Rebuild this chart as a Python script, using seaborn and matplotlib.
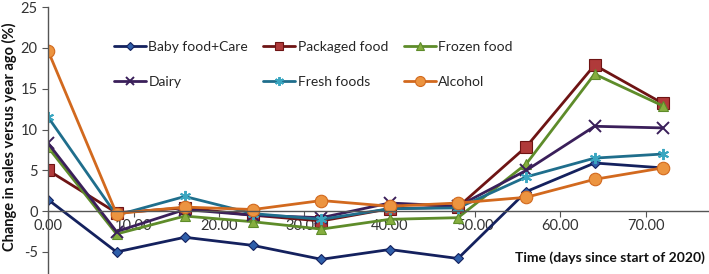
import numpy as np
import pandas as pd
import matplotlib
matplotlib.use("Agg")
import matplotlib.pyplot as plt
import seaborn as sns
from matplotlib.ticker import FormatStrFormatter

sns.set_style("white")
plt.rcParams['font.family'] = ['Lato', 'DejaVu Sans']

days = [0, 8, 16, 24, 32, 40, 48, 56, 64, 72]
baby = [1.4, -5.0, -3.2, -4.2, -5.9, -4.7, -5.8, 2.4, 5.9, 5.3]
packaged = [5.0, -0.2, 0.4, -0.5, -1.2, 0.3, 0.5, 7.9, 17.9, 13.2]
frozen = [7.8, -2.8, -0.6, -1.3, -2.2, -1.0, -0.8, 5.8, 16.8, 12.9]
dairy = [8.3, -2.5, 0.2, -0.5, -0.8, 1.0, 0.6, 5.0, 10.4, 10.2]
fresh = [11.5, -0.5, 1.8, -0.3, -1.0, 0.3, 0.4, 4.2, 6.5, 7.0]
alcohol = [19.6, -0.3, 0.5, 0.2, 1.3, 0.6, 1.0, 1.7, 3.9, 5.3]

names = ["Baby food+Care", "Packaged food", "Frozen food", "Dairy", "Fresh foods", "Alcohol"]
values = [baby, packaged, frozen, dairy, fresh, alcohol]
line_colors = ["#14215E", "#6E1414", "#5E8C2A", "#3A1F5A", "#1F6E8C", "#D2691E"]
face_colors = ["#2F5FAA", "#B03A3A", "#86AE3F", "#3A1F5A", "#3AA6C0", "#EC9440"]
markers = ["D", "s", "^", "x", (6, 2, 0), "o"]
msizes = [5, 8, 7, 8, 8, 9]

fig = plt.figure(figsize=(7.09, 2.74), dpi=100)
ax = fig.add_axes([0.068, 0.0, 0.932, 0.974])

for n, v, lc, fc, m, ms in zip(names, values, line_colors, face_colors, markers, msizes):
    df = pd.DataFrame({"day": days, "val": v})
    stroke = m in ("x",) or isinstance(m, tuple)
    sns.lineplot(data=df, x="day", y="val", ax=ax, color=lc, marker=m, markersize=ms,
                 linewidth=2, label=n, markerfacecolor=fc,
                 markeredgecolor=(fc if isinstance(m, tuple) else lc),
                 markeredgewidth=1.4 if stroke else 0.8)

ax.set_xlim(0, 77.4)
ax.set_ylim(-7.7, 25)
ax.set_yticks([-5, 0, 5, 10, 15, 20, 25])
ax.set_xticks([0, 10, 20, 30, 40, 50, 60, 70])
ax.xaxis.set_major_formatter(FormatStrFormatter("%.2f"))
ax.yaxis.set_major_formatter(FormatStrFormatter("%d"))
ax.spines['bottom'].set_position(('data', 0))
ax.spines['top'].set_visible(False)
ax.spines['right'].set_visible(False)
for s in ("left", "bottom"):
    ax.spines[s].set_color("#555555")
    ax.spines[s].set_linewidth(1.0)
ax.tick_params(axis="both", which="both", direction="out", length=4, color="#555555",
               labelsize=10.5, labelcolor="#333333", left=True, bottom=True)
ax.tick_params(axis="x", pad=2)
ax.set_xlabel("")
ax.set_ylabel("")

fig.text(0.994, 0.06, "Time (days since start of 2020)", ha="right", va="center",
         fontsize=10, fontweight="bold", color="#111111")
fig.text(0.014, 0.5, "Change in sales versus year ago (%)", ha="center", va="center",
         rotation=90, fontsize=10.5, fontweight="bold", color="#111111")

handles, labels = ax.get_legend_handles_labels()
order = [0, 3, 1, 4, 2, 5]
leg = ax.legend([handles[i] for i in order], [labels[i] for i in order],
                ncol=3, frameon=False, loc="upper left", bbox_to_anchor=(0.08, 0.92),
                fontsize=10, handlelength=2.3, handletextpad=0.2, columnspacing=1.1,
                labelspacing=1.65, markerscale=0.8)

fig.savefig("out.png", dpi=100)
